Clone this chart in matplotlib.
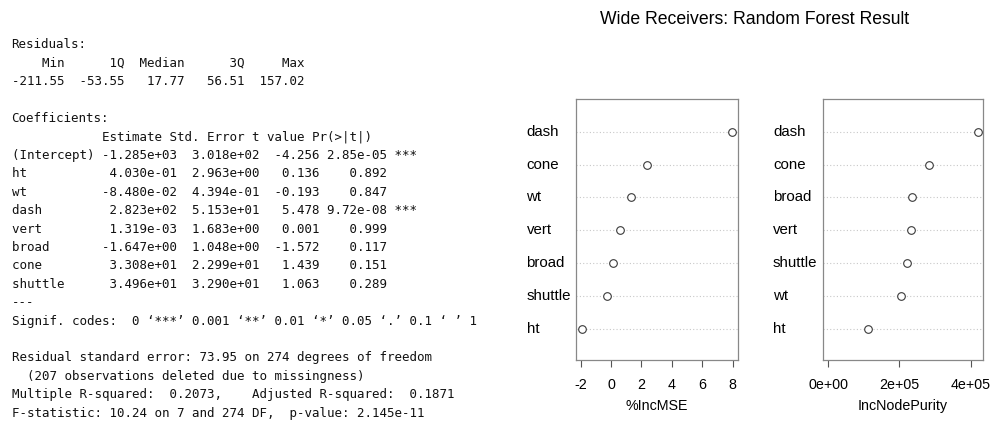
import matplotlib
matplotlib.use("Agg")
import matplotlib.pyplot as plt
from matplotlib.transforms import blended_transform_factory

# ---------------------------------------------------------------------------
# lm() summary values
# ---------------------------------------------------------------------------
resid_names = ["Min", "1Q", "Median", "3Q", "Max"]
resid_values = [-211.55, -53.55, 17.77, 56.51, 157.02]

coef_names = ["(Intercept)", "ht", "wt", "dash", "vert", "broad", "cone", "shuttle"]
coef_est = [-1.285e+03, 4.030e-01, -8.480e-02, 2.823e+02, 1.319e-03,
            -1.647e+00, 3.308e+01, 3.496e+01]
coef_se = [3.018e+02, 2.963e+00, 4.394e-01, 5.153e+01, 1.683e+00,
           1.048e+00, 2.299e+01, 3.290e+01]
coef_t = [-4.256, 0.136, -0.193, 5.478, 0.001, -1.572, 1.439, 1.063]
coef_p = [2.85e-05, 0.892, 0.847, 9.72e-08, 0.999, 0.117, 0.151, 0.289]

footer_lines = [
    "Residual standard error: 73.95 on 274 degrees of freedom",
    "  (207 observations deleted due to missingness)",
    "Multiple R-squared:  0.2073,    Adjusted R-squared:  0.1871 ",
    "F-statistic: 10.24 on 7 and 274 DF,  p-value: 2.145e-11",
]

# ---------------------------------------------------------------------------
# random forest importance (varImpPlot)
# ---------------------------------------------------------------------------
mse_vars = ["dash", "cone", "wt", "vert", "broad", "shuttle", "ht"]
mse_vals = [7.93, 2.34, 1.29, 0.59, 0.13, -0.27, -1.91]

purity_vars = ["dash", "cone", "broad", "vert", "shuttle", "wt", "ht"]
purity_vals = [421000, 283000, 236000, 233000, 220000, 204000, 110700]


def stars(p):
    if p < 0.001:
        return "***"
    if p < 0.01:
        return "**"
    if p < 0.05:
        return "*"
    if p < 0.1:
        return "."
    return ""


def fmt_p(p):
    return f"{p:.2e}" if p < 0.001 else f"{p:.3f}"


def summary_lines():
    lines = ["Residuals:"]
    lines.append(" ".join(n.rjust(7) for n in resid_names))
    lines.append(" ".join(f"{v:.2f}".rjust(7) for v in resid_values))
    lines.append("")
    lines.append("Coefficients:")
    lines.append(" " * 12 + "Estimate Std. Error t value Pr(>|t|)")
    for n, e, s, t, p in zip(coef_names, coef_est, coef_se, coef_t, coef_p):
        lines.append(f"{n:<11} {e:>10.3e} {s:>10.3e} {t:>7.3f} {fmt_p(p):>8} {stars(p)}")
    lines.append("---")
    lines.append("Signif. codes:  0 \u2018***\u2019 0.001 \u2018**\u2019 0.01 "
                 "\u2018*\u2019 0.05 \u2018.\u2019 0.1 \u2018 \u2019 1")
    lines.append("")
    lines.extend(footer_lines)
    return lines


W, H = 992, 421
SANS = "Liberation Sans"
fig = plt.figure(figsize=(W / 100, H / 100), dpi=100)

# left: monospace regression summary
y0 = 45
step = 18.4
for i, line in enumerate(summary_lines()):
    fig.text(11.5 / W, 1 - (y0 + i * step) / H, line,
             family="DejaVu Sans Mono", fontsize=9.0, color="#111111",
             va="center", ha="left")

fig.text(755 / W, 1 - 20 / H, "Wide Receivers: Random Forest Result",
         family=SANS, fontsize=12.7, ha="center", va="center")


def panel(rect, names, vals, xlim, ticks, ticklabels, xlabel, label_x):
    ax = fig.add_axes(rect)
    ypos = list(range(len(names), 0, -1))
    for y in ypos:
        ax.axhline(y, color="#c8c8c8", lw=0.8, ls=(0, (1, 2)), zorder=1)
    ax.plot(vals, ypos, "o", mfc="white", mec="#3a3a3a", mew=0.8, ms=5.5,
            zorder=3, clip_on=False)
    ax.set_xlim(*xlim)
    ax.set_ylim(0.05, 8.0)
    ax.set_yticks([])
    ax.set_xticks(ticks)
    ax.set_xticklabels(ticklabels, family=SANS, fontsize=10.3)
    ax.tick_params(axis="x", length=5.2, width=0.8, color="#555555", pad=8)
    for sp in ax.spines.values():
        sp.set_color("#888888")
        sp.set_linewidth(0.9)
    ax.set_xlabel(xlabel, family=SANS, fontsize=10.3, labelpad=5)

    # row labels, left-aligned like R's dotchart
    trans = blended_transform_factory(fig.transFigure, ax.transData)
    for name, y in zip(names, ypos):
        ax.text(label_x / W, y, name, transform=trans, fontsize=10.8,
                family=SANS, va="center", ha="left", clip_on=False)
    return ax


bottom = 1 - 360 / H
height = (360 - 99) / H

panel([576 / W, bottom, 162 / W, height], mse_vars, mse_vals,
      (-2.31, 8.35), [-2, 0, 2, 4, 6, 8], ["-2", "0", "2", "4", "6", "8"],
      "%IncMSE", 526.5)

panel([822.7 / W, bottom, 160 / W, height], purity_vars, purity_vals,
      (-15700, 433700), [0, 200000, 400000], ["0e+00", "2e+05", "4e+05"],
      "IncNodePurity", 773)

fig.savefig("out.png", dpi=100)
